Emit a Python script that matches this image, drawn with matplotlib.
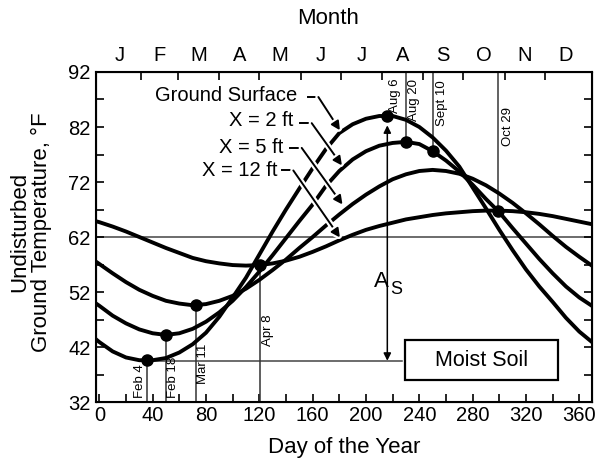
import matplotlib.pyplot as plt
import matplotlib.patheffects as pe
from matplotlib.patches import Rectangle
import numpy as np

plt.rcParams['font.family'] = ['Liberation Sans', 'DejaVu Sans']

# day of year and undisturbed ground temperature (F)
days = [-3, 0, 10, 20, 30, 40, 50, 60, 70, 80, 90, 100, 110, 120, 130, 140, 150,
        160, 170, 180, 190, 200, 210, 220, 230, 240, 250, 260, 270, 280, 290,
        300, 310, 320, 330, 340, 350, 360, 370]
surface = [43.5, 42.9, 41.2, 40.1, 39.6, 39.6, 40.0, 41.0, 42.5, 44.6, 47.5, 51.0,
           54.6, 58.8, 63.0, 67.0, 70.8, 74.5, 78.0, 80.9, 82.5, 83.5, 84.0, 84.0,
           83.3, 82.0, 80.1, 77.7, 74.8, 71.0, 67.2, 63.3, 59.6, 56.1, 53.0, 50.2,
           47.3, 44.8, 42.8]
x_2ft = [50.0, 49.5, 47.7, 46.3, 45.2, 44.5, 44.2, 44.5, 45.3, 46.6, 48.3, 50.4,
         52.9, 55.7, 58.7, 61.8, 64.9, 67.9, 71.3, 74.0, 76.1, 77.6, 78.6, 79.1,
         79.3, 78.9, 77.6, 75.9, 73.9, 71.5, 68.9, 66.5, 63.6, 60.8, 58.0, 55.4,
         53.0, 51.0, 49.4]
x_5ft = [57.6, 57.1, 55.4, 53.8, 52.4, 51.3, 50.4, 49.9, 49.6, 49.8, 50.4, 51.3,
         52.6, 54.2, 56.0, 57.9, 60.0, 62.0, 64.1, 66.1, 68.0, 69.7, 71.2, 72.5,
         73.4, 74.0, 74.2, 74.0, 73.5, 72.6, 71.4, 69.9, 68.2, 66.3, 64.3, 62.2,
         60.2, 58.4, 56.7]
x_12ft = [64.9, 64.7, 63.9, 63.0, 62.0, 61.0, 60.0, 59.1, 58.2, 57.6, 57.2, 56.9,
          56.8, 56.9, 57.2, 57.7, 58.4, 59.3, 60.3, 61.4, 62.4, 63.3, 64.0, 64.6,
          65.2, 65.6, 66.0, 66.3, 66.5, 66.7, 66.8, 66.8, 66.7, 66.5, 66.2, 65.8,
          65.3, 64.8, 64.3]

# min / max points
dot_days = [35.6, 49.8, 72.5, 120.5, 216, 230, 250, 299]
dot_temps = [39.6, 44.2, 49.6, 56.9, 84.0, 79.3, 77.6, 66.8]
dot_names = ['Feb 4', 'Feb 18', 'Mar 11', 'Apr 8', 'Aug 6', 'Aug 20', 'Sept 10', 'Oct 29']

months = ['J', 'F', 'M', 'A', 'M', 'J', 'J', 'A', 'S', 'O', 'N', 'D']
month_mid = [15.5, 45, 74.5, 105, 135.5, 166, 196.5, 227.5, 258, 288.5, 319, 349.5]
month_edges = [31, 59, 90, 120, 151, 181, 212, 243, 273, 304, 334]

fig = plt.figure(figsize=(6.01, 4.66), dpi=100)
ax = fig.add_axes([0.1597, 0.1373, 0.8253, 0.7082])
ax.set_xlim(-2.5, 369.5)
ax.set_ylim(32, 92)

lw = 2.8
for t in [surface, x_2ft, x_5ft, x_12ft]:
    ax.plot(days, t, color='black', lw=lw, zorder=3, solid_capstyle='round')

ax.plot(dot_days, dot_temps, 'o', color='black', ms=8, zorder=5)

# reference lines
ax.axhline(62, color='#444444', lw=1.1, zorder=1)
ax.plot([dot_days[0], 226.8], [39.5, 39.5], color='#444444', lw=1.1, zorder=1)
for d, t in zip(dot_days[:4], dot_temps[:4]):
    ax.plot([d, d], [32, t], color='#333333', lw=1.1, zorder=2)
for d, t in zip(dot_days[5:], dot_temps[5:]):
    ax.plot([d, d], [t, 92], color='#555555', lw=1.3, zorder=2)

# date labels
low_pos = [(30.6, 32.7), (55.3, 32.7), (78.0, 35.2), (126.5, 42.2)]
for (x, y), s in zip(low_pos, dot_names[:4]):
    ax.text(x, y, s, rotation=90, ha='center', va='bottom', fontsize=9.5)
top_pos = [(221.8, 90.8), (236.0, 90.8), (256.8, 90.5), (306.5, 85.6)]
for (x, y), s in zip(top_pos, dot_names[4:]):
    ax.text(x, y, s, rotation=90, ha='center', va='top', fontsize=9.5)

# amplitude arrow
ax.annotate('', xy=(216, 82.3), xytext=(216, 39.5),
            arrowprops=dict(arrowstyle='<|-|>', lw=1.1, color='black',
                            mutation_scale=11, shrinkA=0, shrinkB=0), zorder=4)
ax.text(211.7, 54.0, 'A', fontsize=16, ha='center', va='center')
ax.text(222.6, 52.5, 'S', fontsize=13, ha='center', va='center')

# moist soil box
ax.add_patch(Rectangle((229.3, 35.95), 114.7, 7.3, fill=False, lw=1.6,
                       edgecolor='black', zorder=4))
ax.text(286.7, 39.6, 'Moist Soil', fontsize=15.5, ha='center', va='center')

# curve labels with leaders
labels = ['Ground Surface', 'X = 2 ft', 'X = 5 ft', 'X = 12 ft']
text_pos = [(148.3, 87.75), (145.3, 83.2), (137.8, 78.3), (133.3, 74.1)]
leaders = [[(156.8, 87.45), (164.3, 87.45), (180.5, 81.4)],
           [(150.5, 82.7), (159.3, 82.7), (182.0, 75.0)],
           [(143.0, 78.2), (151.8, 78.2), (182.4, 67.9)],
           [(136.8, 74.1), (145.5, 74.1), (180.5, 61.9)]]
halo = [pe.Stroke(linewidth=4.5, foreground='white'), pe.Normal()]
for s, (x, y), pts in zip(labels, text_pos, leaders):
    ax.text(x, y, s, fontsize=14.5, ha='right', va='center')
    ax.plot([pts[0][0], pts[1][0]], [pts[0][1], pts[1][1]], color='black',
            lw=1.4, zorder=6, path_effects=halo)
    ann = ax.annotate('', xy=pts[2], xytext=pts[1],
                      arrowprops=dict(arrowstyle='-|>', lw=1.4, color='black',
                                      mutation_scale=13, shrinkA=0, shrinkB=0),
                      zorder=6)
    ann.arrow_patch.set_path_effects(halo)

# axes, ticks
ax.set_xticks(np.arange(0, 361, 40))
ax.set_xticks(np.arange(20, 361, 40), minor=True)
ax.set_yticks(np.arange(32, 93, 10))
ax.set_yticks(np.arange(37, 88, 10), minor=True)
ax.tick_params(which='both', direction='in', length=6, width=1.2,
               right=True, top=False, labelsize=14.5)
ax.tick_params(axis='x', pad=3)
ax.tick_params(axis='y', pad=4)
for sp in ax.spines.values():
    sp.set_linewidth(1.5)

ax2 = ax.twiny()
ax2.set_xlim(ax.get_xlim())
ax2.set_xticks(month_mid, labels=months)
ax2.set_xticks(month_edges, minor=True)
ax2.tick_params(which='major', length=0, labelsize=14.5, pad=5)
ax2.tick_params(which='minor', direction='in', length=6, width=1.2)

fig.text(328 / 601, 1 - 18 / 466, 'Month', fontsize=16, ha='center', va='center')
fig.text(344 / 601, 1 - 448 / 466, 'Day of the Year', fontsize=16,
         ha='center', va='center')
fig.text(30.5 / 601, 1 - 232 / 466, 'Undisturbed\nGround Temperature, °F',
         fontsize=16, rotation=90, ha='center', va='center', linespacing=1.05)

fig.savefig('out.png', dpi=100)
